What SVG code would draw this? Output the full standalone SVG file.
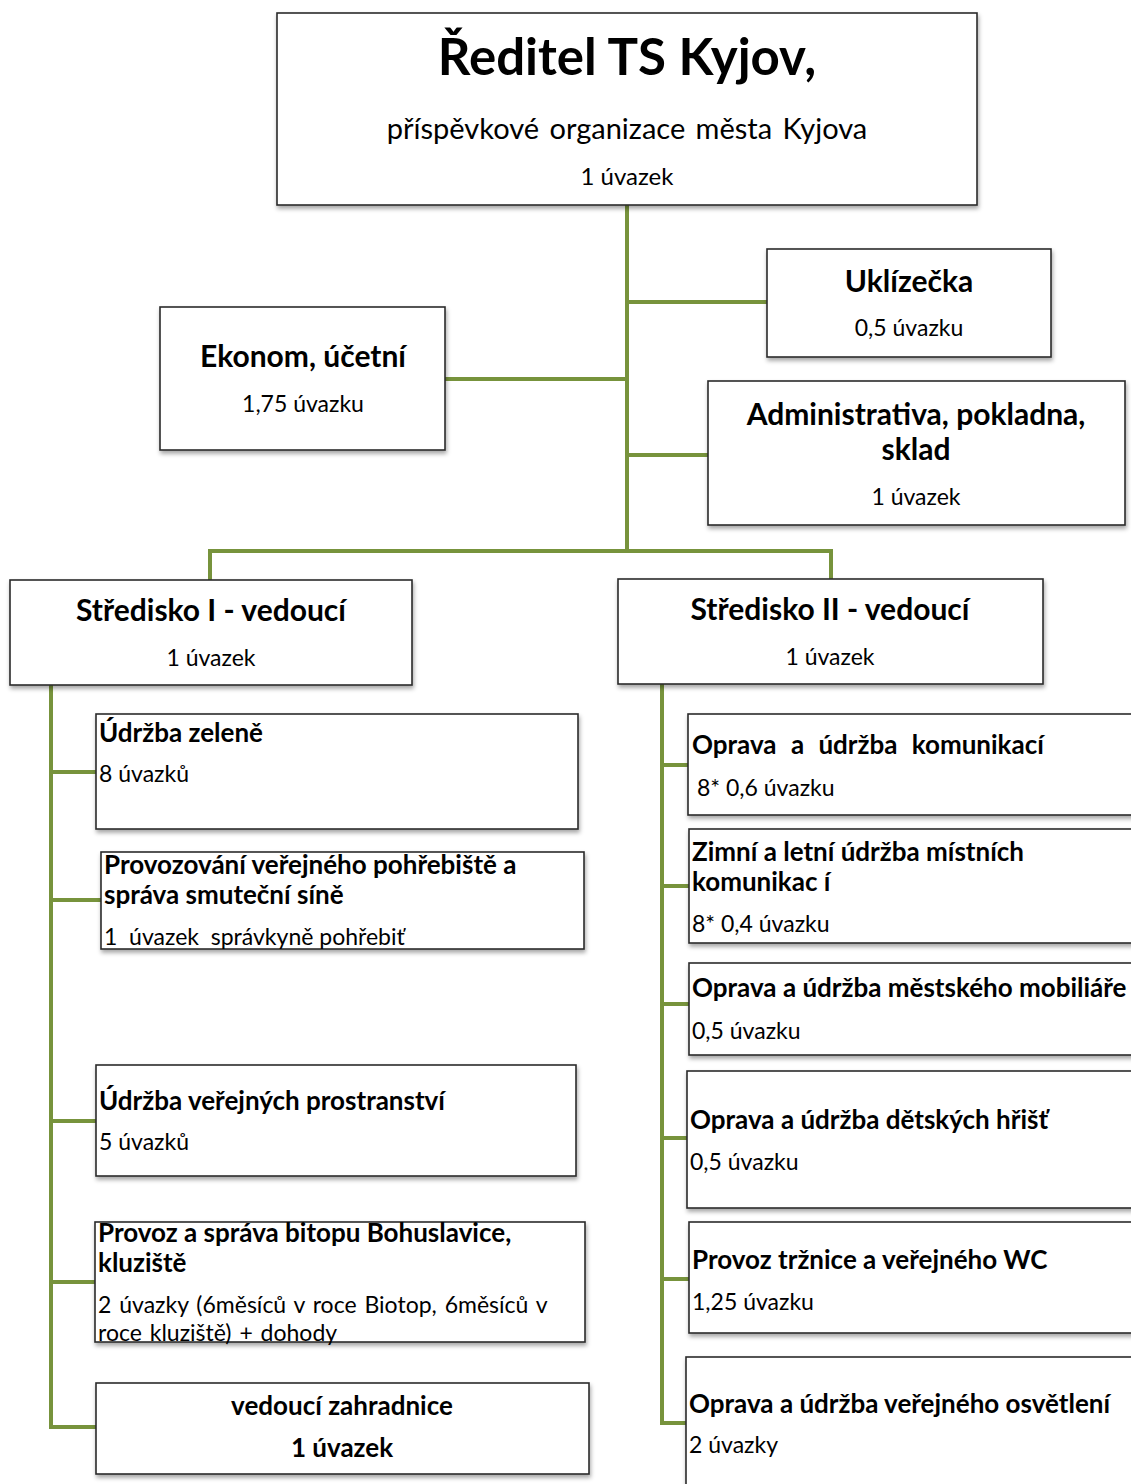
<svg xmlns="http://www.w3.org/2000/svg" width="1131" height="1484" viewBox="0 0 1131 1484">
<defs>
<filter id="sh" x="-5%" y="-5%" width="110%" height="115%">
<feDropShadow dx="1" dy="3" stdDeviation="2" flood-color="#000" flood-opacity="0.35"/>
</filter>
<style>
.box{fill:#fff;stroke:#2b2b2b;stroke-width:1.6;filter:url(#sh)}
.con{fill:none;stroke:#77933C;stroke-width:4}
text{font-family:Lato,"Noto Sans",sans-serif;fill:#000;font-size:23px}
.b{font-weight:bold;font-size:26px}
.h{font-weight:bold;font-size:30px}
.c{text-anchor:middle}
</style>
</defs>
<g id="connectors">
<path class="con" d="M627,205 V551 M627,302 H767 M627,379 H445 M627,455 H708 M210,580 V551 H831 V580"/>
<path class="con" d="M51,685 V1427 H96 M51,772 H96 M51,900 H101 M51,1121 H96 M51,1282 H95"/>
<path class="con" d="M662,684 V1423 H686 M662,765 H688 M662,886 H689 M662,1004 H689 M662,1138 H687 M662,1279 H689"/>
</g>
<g id="director">
<rect class="box" x="277" y="13" width="700" height="192"/>
<text class="c" x="627" y="75" style="font-size:51px;font-weight:bold">Ředitel TS Kyjov,</text>
<text class="c" x="627" y="139" style="font-size:29px" word-spacing="3">příspěvkové organizace města  Kyjova</text>
<text class="c" x="627" y="185" style="font-size:24px">1 úvazek</text>
</g>
<g id="uklizecka">
<rect class="box" x="767" y="249" width="284" height="108"/>
<text class="h c" x="909" y="292">Uklízečka</text>
<text class="c" x="909" y="336">0,5 úvazku</text>
</g>
<g id="ekonom">
<rect class="box" x="160" y="307" width="285" height="143"/>
<text class="h c" x="303" y="367">Ekonom, účetní</text>
<text class="c" x="303" y="412">1,75 úvazku</text>
</g>
<g id="administrativa">
<rect class="box" x="708" y="381" width="417" height="144"/>
<text class="h c" x="916" y="425">Administrativa, pokladna,</text>
<text class="h c" x="916" y="460">sklad</text>
<text class="c" x="916" y="505">1 úvazek</text>
</g>
<g id="stredisko1">
<rect class="box" x="10" y="580" width="402" height="105"/>
<text class="h c" x="211" y="621">Středisko I - vedoucí</text>
<text class="c" x="211" y="666">1 úvazek</text>
</g>
<g id="stredisko2">
<rect class="box" x="618" y="579" width="425" height="105"/>
<text class="h c" x="830" y="620">Středisko II - vedoucí</text>
<text class="c" x="830" y="665">1 úvazek</text>
</g>
<g id="udrzba-zelene">
<rect class="box" x="96" y="714" width="482" height="115"/>
<text class="b" x="99" y="742">Údržba zeleně</text>
<text x="99" y="782">8 úvazků</text>
</g>
<g id="pohrebiste">
<rect class="box" x="101" y="852" width="483" height="97"/>
<text class="b" x="104" y="874">Provozování veřejného pohřebiště a</text>
<text class="b" x="104" y="904">správa smuteční síně</text>
<text x="104" y="945" xml:space="preserve">1  úvazek  správkyně pohřebiť</text>
</g>
<g id="prostranstvi">
<rect class="box" x="96" y="1065" width="480" height="111"/>
<text class="b" x="99" y="1110">Údržba veřejných prostranství</text>
<text x="99" y="1150">5 úvazků</text>
</g>
<g id="biotop">
<rect class="box" x="95" y="1222" width="490" height="120"/>
<text class="b" x="98" y="1242">Provoz a správa bitopu Bohuslavice,</text>
<text class="b" x="98" y="1272">kluziště</text>
<text x="98" y="1313" word-spacing="2">2 úvazky (6měsíců v roce Biotop, 6měsíců v</text>
<text x="98" y="1341" word-spacing="2">roce kluziště) + dohody</text>
</g>
<g id="zahradnice">
<rect class="box" x="96" y="1383" width="493" height="91"/>
<text class="b c" x="342" y="1415">vedoucí zahradnice</text>
<text class="b c" x="342" y="1457">1 úvazek</text>
</g>
<g id="komunikace">
<rect class="box" x="688" y="714" width="460" height="101"/>
<text class="b" x="692" y="754" word-spacing="8">Oprava a údržba komunikací</text>
<text x="697" y="796">8* 0,6 úvazku</text>
</g>
<g id="zimni">
<rect class="box" x="689" y="829" width="460" height="114"/>
<text class="b" x="692" y="861">Zimní a letní údržba místních</text>
<text class="b" x="692" y="891">komunikac í</text>
<text x="692" y="932">8* 0,4 úvazku</text>
</g>
<g id="mobiliar">
<rect class="box" x="689" y="963" width="460" height="92"/>
<text class="b" x="692" y="997">Oprava a údržba městského mobiliáře</text>
<text x="692" y="1039">0,5 úvazku</text>
</g>
<g id="hriste">
<rect class="box" x="687" y="1071" width="460" height="137"/>
<text class="b" x="690" y="1129">Oprava a údržba dětských hřišť</text>
<text x="690" y="1170">0,5 úvazku</text>
</g>
<g id="trznice">
<rect class="box" x="689" y="1222" width="460" height="111"/>
<text class="b" x="692" y="1269">Provoz tržnice a veřejného WC</text>
<text x="692" y="1310">1,25 úvazku</text>
</g>
<g id="osvetleni">
<rect class="box" x="686" y="1357" width="460" height="140"/>
<text class="b" x="689" y="1413">Oprava a údržba veřejného osvětlení</text>
<text x="689" y="1453">2 úvazky</text>
</g>
</svg>
